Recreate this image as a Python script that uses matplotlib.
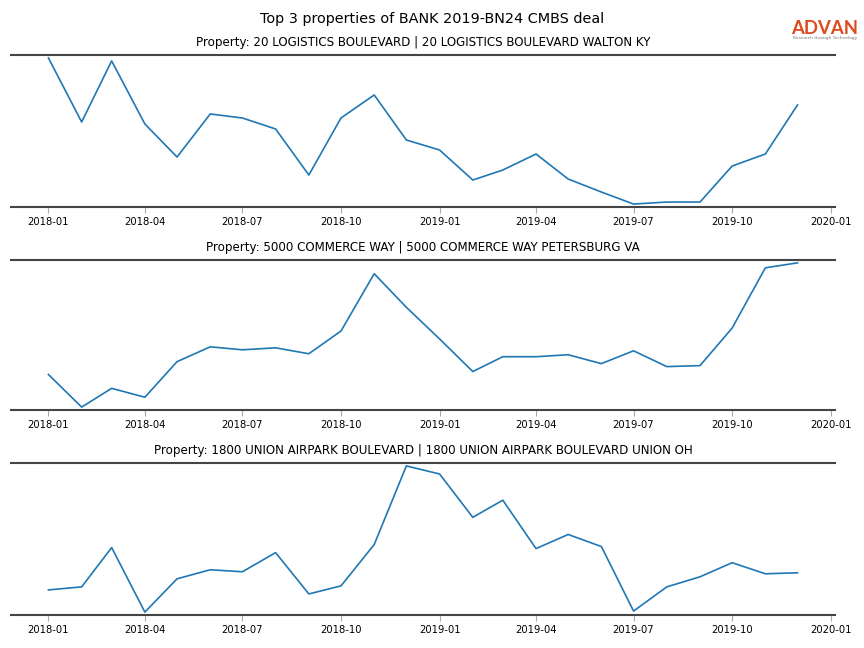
import pandas as pd
import numpy as np
import matplotlib.pyplot as plt
import matplotlib.dates as mdates

months = pd.date_range('2018-01-01', '2019-12-01', freq='MS')

titles = ['Property: 20 LOGISTICS BOULEVARD | 20 LOGISTICS BOULEVARD WALTON KY',
          'Property: 5000 COMMERCE WAY | 5000 COMMERCE WAY PETERSBURG VA',
          'Property: 1800 UNION AIRPARK BOULEVARD | 1800 UNION AIRPARK BOULEVARD UNION OH']

# monthly visits per property (scale, no y axis shown)
visits_walton = [152, 88, 149, 86, 53, 96, 92, 81, 35, 92, 115, 70,
                 60, 30, 40, 56, 31, 18, 6, 8, 8, 44, 56, 105]
visits_petersburg = [37, 4, 23, 14, 50, 65, 62, 64, 58, 81, 139, 105,
                     73, 40, 55, 55, 57, 48, 61, 45, 46, 84, 145, 150]
visits_union = [26, 29, 68, 4, 37, 46, 44, 63, 22, 30, 71, 149,
                141, 98, 115, 67, 81, 69, 5, 29, 39, 53, 42, 43]

series = [visits_walton, visits_petersburg, visits_union]

fig = plt.figure(figsize=(8.64, 6.48), dpi=100)
fig.suptitle('Top 3 properties of BANK 2019-BN24 CMBS deal', fontsize=10.4, y=0.982)

# logo
fig.text(0.9545, 0.9475, 'ADVAN', color='#dd4a1e', fontsize=13.3, fontweight='bold',
         family='Lato', ha='center', va='baseline')
fig.text(0.9545, 0.9415, 'Research through Technology', color='#777777', fontsize=3.2,
         ha='center', va='center')

boxes = [(0.6806, 0.9151), (0.3673, 0.5988), (0.0509, 0.2855)]
for (bot, top), title, vals in zip(boxes, titles, series):
    ax = fig.add_axes([0.0127, bot, 0.9537, top - bot])
    ax.plot(months, vals, color='#1f77b4', linewidth=1.2)
    ax.set_title(title, fontsize=8.6, pad=6.5)
    ax.margins(x=0.05, y=0.02)
    ax.xaxis.set_major_locator(mdates.MonthLocator(bymonth=[1, 4, 7, 10]))
    ax.xaxis.set_major_formatter(mdates.DateFormatter('%Y-%m'))
    ax.tick_params(axis='x', labelsize=7.2, length=4, color='#aaaaaa', pad=3)
    ax.set_yticks([])
    for s in ['left', 'right']:
        ax.spines[s].set_visible(False)
    for s in ['top', 'bottom']:
        ax.spines[s].set_color('#444444')
        ax.spines[s].set_linewidth(1.5)

plt.savefig('out.png', dpi=100)
